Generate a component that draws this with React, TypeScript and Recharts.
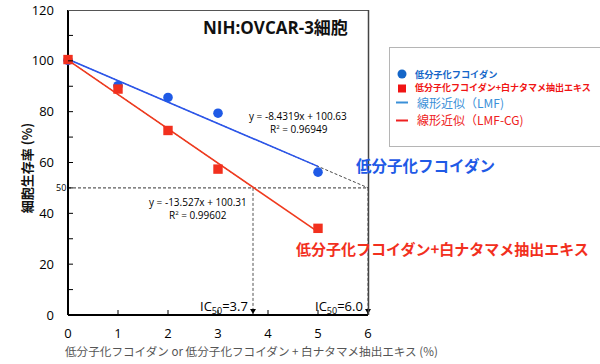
import React from 'react';
import { ComposedChart, Line, Scatter, XAxis, YAxis } from 'recharts';

// measured points
const lmfDose = [0, 1, 2, 3, 5];
const lmfViability = [100.2, 90.2, 85.6, 79.4, 56.2];
const cgDose = [0, 1, 2, 3, 5];
const cgViability = [100.5, 88.9, 72.6, 57.4, 34.1];

// linear fits (from the equations on the chart)
const lmfFitX = [0, 5];
const lmfFitY = [100.63, 58.47];
const lmfDashX = [0, 6];
const lmfDashY = [100.63, 50.04];
const cgFitX = [0, 5];
const cgFitY = [100.31, 32.68];
const cgDashX = [0, 3.7];
const cgDashY = [100.31, 50.26];

// IC50 guides
const halfLineX = [0, 6];
const halfLineY = [50, 50];
const ic50Lmf = 6.0;
const ic50Cg = 3.7;
const guideY = [50, 0];

const xTicks = [0, 1, 2, 3, 4, 5, 6];
const yTicks = [0, 10, 20, 30, 40, 50, 60, 70, 80, 90, 100, 110, 120];

const pts = (xs: number[], ys: number[]) => xs.map((x, i) => ({ x, y: ys[i] }));

const lmfData = pts(lmfDose, lmfViability);
const cgData = pts(cgDose, cgViability);
const lmfFit = pts(lmfFitX, lmfFitY);
const lmfDash = pts(lmfDashX, lmfDashY);
const cgFit = pts(cgFitX, cgFitY);
const cgDash = pts(cgDashX, cgDashY);
const halfLine = pts(halfLineX, halfLineY);
const guideCg = pts([ic50Cg, ic50Cg], guideY);
const guideLmf = pts([ic50Lmf, ic50Lmf], guideY);

const BLUE = '#1f5ae6';
const RED = '#f2301e';
const FONT = "'Open Sans', 'Noto Sans CJK JP', sans-serif";
const JP = "'Noto Sans CJK JP', sans-serif";

const YTick = (props: any) => {
  const { x, y, payload } = props;
  const v = payload.value;
  return (
    <g>
      {v !== 0 && v !== 120 && <line x1={x} x2={x + 5} y1={y} y2={y} stroke="#000" />}
      {v % 20 === 0 && (
        <text x={x - 14} y={y} dy={4.6} textAnchor="end" fontSize={13} fontFamily={FONT} fill="#000">
          {v}
        </text>
      )}
    </g>
  );
};

const XTick = (props: any) => {
  const { x, y, payload } = props;
  const v = payload.value;
  return (
    <g>
      {v !== 0 && <line x1={x} x2={x} y1={y} y2={y - 5} stroke="#000" />}
      <text x={x} y={y + 23} textAnchor="middle" fontSize={13} fontFamily={FONT} fill="#000">
        {v}
      </text>
    </g>
  );
};

const arrowDot = (props: any) => {
  const { cx, cy, payload, index } = props;
  if (payload.y !== 0) return <g key={index} />;
  return <path key={index} d={`M${cx - 3},${cy - 6} L${cx + 3},${cy - 6} L${cx},${cy - 1} Z`} fill="#000" />;
};

const circleShape = (props: any) => <circle cx={props.cx} cy={props.cy} r={4.8} fill={BLUE} />;
const squareShape = (props: any) => (
  <rect x={props.cx - 4.7} y={props.cy - 4.7} width={9.4} height={9.4} fill={RED} />
);

export default function App() {
  return (
    <div style={{ position: 'fixed', left: 0, top: 0, width: 600, height: 364, background: '#fff' }}>
      <div style={{ position: 'absolute', left: 0, top: 0 }}>
        <ComposedChart width={600} height={364} margin={{ top: 10, right: 232, bottom: 0, left: 0 }}>
          <XAxis
            type="number"
            dataKey="x"
            domain={[0, 6]}
            ticks={xTicks}
            interval={0}
            height={49}
            tickSize={0}
            tickMargin={0}
            tickLine={false}
            tick={<XTick />}
            axisLine={{ stroke: '#000', strokeWidth: 2 }}
          />
          <YAxis
            type="number"
            dataKey="y"
            domain={[0, 120]}
            ticks={yTicks}
            interval={0}
            width={68}
            tickSize={0}
            tickMargin={0}
            tickLine={false}
            tick={<YTick />}
            axisLine={{ stroke: '#000', strokeWidth: 2 }}
          />
          <Line data={halfLine} dataKey="y" stroke="#333" strokeWidth={1} strokeDasharray="3 2" dot={false} isAnimationActive={false} />
          <Line data={guideCg} dataKey="y" stroke="#555" strokeWidth={1} strokeDasharray="3 2" dot={arrowDot} isAnimationActive={false} />
          <Line data={guideLmf} dataKey="y" stroke="#555" strokeWidth={1} strokeDasharray="3 2" dot={arrowDot} isAnimationActive={false} />
          <Line data={lmfDash} dataKey="y" stroke="#333" strokeWidth={0.9} strokeDasharray="3 2" dot={false} isAnimationActive={false} />
          <Line data={cgDash} dataKey="y" stroke="#333" strokeWidth={0.9} strokeDasharray="3 2" dot={false} isAnimationActive={false} />
          <Line data={lmfFit} dataKey="y" stroke="#2a55ec" strokeWidth={1.6} dot={false} isAnimationActive={false} />
          <Line data={cgFit} dataKey="y" stroke="#f03a1e" strokeWidth={1.6} dot={false} isAnimationActive={false} />
          <Scatter data={lmfData} dataKey="y" shape={circleShape} isAnimationActive={false} />
          <Scatter data={cgData} dataKey="y" shape={squareShape} isAnimationActive={false} />
        </ComposedChart>
      </div>
      <svg width={600} height={364} style={{ position: 'absolute', left: 0, top: 0, pointerEvents: 'none' }}>
        {/* plot frame */}
        <line x1={68} x2={368.5} y1={10.5} y2={10.5} stroke="#555" />
        <line x1={368.5} x2={368.5} y1={10} y2={315} stroke="#444" strokeWidth={1.5} />

        <text x={203} y={34} fontSize={17} fontWeight="bold" fontFamily={FONT} fill="#111">
          NIH:OVCAR-3細胞
        </text>

        <text x={249} y={120} fontSize={10} fontFamily={FONT} fill="#000">y = -8.4319x + 100.63</text>
        <text x={270} y={133} fontSize={10} fontFamily={FONT} fill="#000">
          R<tspan dy={-4} fontSize={6}>2</tspan><tspan dy={4}> = 0.96949</tspan>
        </text>
        <text x={149} y={205.5} fontSize={10} fontFamily={FONT} fill="#000">y = -13.527x + 100.31</text>
        <text x={169} y={219} fontSize={10} fontFamily={FONT} fill="#000">
          R<tspan dy={-4} fontSize={6}>2</tspan><tspan dy={4}> = 0.99602</tspan>
        </text>

        <text x={56} y={191} fontSize={9} fontFamily={FONT} fill="#000">50</text>

        <text x={200} y={311} fontSize={13} fontFamily={FONT} fill="#000">
          IC<tspan dy={3} fontSize={9}>50</tspan><tspan dy={-3}>=3.7</tspan>
        </text>
        <text x={315} y={311} fontSize={13} fontFamily={FONT} fill="#000">
          IC<tspan dy={3} fontSize={9}>50</tspan><tspan dy={-3}>=6.0</tspan>
        </text>

        <text x={356} y={172} fontSize={15.5} fontWeight="bold" fontFamily={JP} fill={BLUE}>低分子化フコイダン</text>
        <text x={296} y={255} fontSize={15} fontWeight="bold" fontFamily={JP} fill={RED}>低分子化フコイダン+白ナタマメ抽出エキス</text>

        <text
          transform="translate(32,168) rotate(-90)"
          textAnchor="middle"
          fontSize={13}
          fontWeight="bold"
          fontFamily={JP}
          fill="#111"
        >
          細胞生存率 (%)
        </text>
        <text x={65} y={356} fontSize={11.6} fontFamily={JP} fill="#555">
          低分子化フコイダン or 低分子化フコイダン + 白ナタマメ抽出エキス (%)
        </text>

        {/* legend */}
        <rect x={389.5} y={47.5} width={220} height={99} fill="#fff" stroke="#b5b5b5" />
        <circle cx={402} cy={74} r={4.5} fill="#1466c8" />
        <text x={415} y={77.5} fontSize={9.2} fontWeight="bold" fontFamily={JP} fill="#1466c8">低分子化フコイダン</text>
        <rect x={398} y={84.5} width={8} height={8} fill="#f01414" />
        <text x={415} y={91} fontSize={9} fontWeight="bold" fontFamily={JP} fill="#f01414">低分子化フコイダン+白ナタマメ抽出エキス</text>
        <line x1={396} x2={408} y1={102.5} y2={102.5} stroke="#3a90d8" strokeWidth={2} />
        <text x={417} y={107.6} fontSize={12} fontFamily={JP} fill="#3a90d8">線形近似（LMF)</text>
        <line x1={396} x2={408} y1={120.5} y2={120.5} stroke="#ee2020" strokeWidth={2} />
        <text x={417} y={125.2} fontSize={12} fontFamily={JP} fill="#ee2020">線形近似（LMF-CG)</text>
      </svg>
    </div>
  );
}
